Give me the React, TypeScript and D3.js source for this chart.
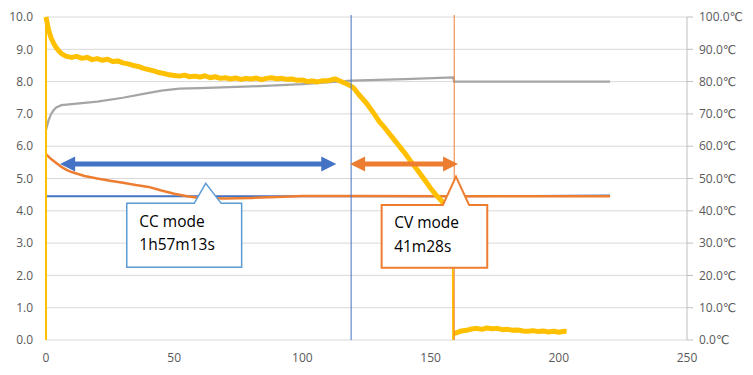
import * as d3 from "d3";

const W = 753;
const H = 375;
const marginLeft = 46;
const marginRight = 66;
const marginTop = 17;
const marginBottom = 35;

// x ticks (minutes) and axis ranges
const xTicks = [0, 50, 100, 150, 200, 250];
const leftTicks = [0, 1, 2, 3, 4, 5, 6, 7, 8, 9, 10];
const rightTicks = [0, 10, 20, 30, 40, 50, 60, 70, 80, 90, 100];

// yellow series (left axis), [minute, value]
const currentSeries: [number, number][] = [
  [0, 0], [0, 10], [0.5, 9.8], [1, 9.6], [2, 9.35], [3, 9.18], [4, 9.05], [5, 8.95],
  [6, 8.87], [7, 8.82], [8, 8.78], [10, 8.75], [12, 8.78], [14, 8.72], [16, 8.75],
  [18, 8.68], [20, 8.71], [22, 8.66], [24, 8.69], [26, 8.62], [28, 8.64], [30, 8.58],
  [32, 8.55], [34, 8.5], [36, 8.47], [38, 8.41], [40, 8.37], [42, 8.33], [44, 8.28],
  [46, 8.25], [48, 8.21], [50, 8.19], [52, 8.17], [54, 8.2], [56, 8.15], [58, 8.17],
  [60, 8.14], [62, 8.18], [64, 8.12], [66, 8.15], [68, 8.1], [70, 8.12], [72, 8.08],
  [74, 8.11], [76, 8.07], [78, 8.1], [80, 8.08], [82, 8.11], [84, 8.06], [86, 8.1],
  [88, 8.12], [90, 8.09], [92, 8.1], [94, 8.07], [96, 8.08], [98, 8.04], [100, 8.05],
  [102, 8.0], [104, 8.02], [106, 7.99], [108, 8.03], [110, 8.03], [112, 8.07],
  [113, 8.08], [114, 8.04], [116, 7.97], [118, 7.9], [119, 7.86], [120, 7.8],
  [122, 7.6], [125, 7.33], [128, 7.0], [130, 6.76], [132, 6.58], [135, 6.28],
  [138, 5.98], [140, 5.78], [142, 5.56], [145, 5.25], [148, 4.92], [150, 4.7],
  [152, 4.5], [155, 4.24], [158.6, 3.9], [158.8, 0], [159, 0.2], [160, 0.22],
  [162, 0.28], [164, 0.3], [166, 0.34], [168, 0.36], [170, 0.33], [172, 0.37],
  [174, 0.35], [176, 0.36], [178, 0.32], [180, 0.33], [182, 0.3], [184, 0.31],
  [186, 0.28], [188, 0.27], [190, 0.29], [192, 0.26], [194, 0.28], [196, 0.25],
  [198, 0.27], [200, 0.24], [202, 0.27], [203, 0.26],
];

// gray series (right axis, degC)
const tempSeries: [number, number][] = [
  [0, 65], [1, 68], [2, 70], [3, 71.2], [4, 72], [6, 72.7], [10, 73], [20, 73.8],
  [30, 75], [38, 76.2], [45, 77.2], [52, 77.8], [60, 78], [80, 78.5], [100, 79.2],
  [119, 80.3], [140, 80.8], [158.8, 81.3], [159.2, 80], [220, 80],
];

// orange series (left axis)
const voltSeries: [number, number][] = [
  [0, 5.75], [2, 5.6], [4, 5.48], [6, 5.36], [8, 5.27], [10, 5.2], [15, 5.08],
  [20, 5.0], [25, 4.93], [30, 4.87], [35, 4.8], [40, 4.74], [45, 4.63], [50, 4.53],
  [55, 4.45], [60, 4.4], [70, 4.38], [80, 4.4], [90, 4.43], [100, 4.46], [120, 4.46],
  [160, 4.45], [220, 4.45],
];

// blue series (left axis)
const blueSeries: [number, number][] = [
  [0, 4.45], [50, 4.45], [100, 4.45], [150, 4.45], [190, 4.46], [220, 4.47],
];

// mode boundaries (minutes)
const ccEnd = 119;
const cvEnd = 159.2;

// double arrows: [x0, x1, y] in data units
const arrows = [
  { from: 5.5, to: 113.2, y: 5.45, color: "#4472c4" },
  { from: 118.6, to: 160.7, y: 5.45, color: "#ed7d31" },
];

// callouts in data units
const callouts = [
  { lines: ["CC mode", "1h57m13s"], x0: 31.5, x1: 76.3, yTop: 4.23, yBot: 2.25, tipX: 62.3, tipY: 4.85, base0: 57.8, base1: 68.3, color: "#5b9bd5", width: 1.5 },
  { lines: ["CV mode", "41m28s"], x0: 130.9, x1: 172.1, yTop: 4.18, yBot: 2.24, tipX: 159.9, tipY: 5.06, base0: 154.8, base1: 165, color: "#ed7d31", width: 2 },
];

const font = "'Open Sans', 'DejaVu Sans', sans-serif";

export default function App() {
  const x = d3.scaleLinear().domain([0, 250]).range([marginLeft, W - marginRight]);
  const y = d3.scaleLinear().domain([0, 10]).range([H - marginBottom, marginTop]);
  const yR = d3.scaleLinear().domain([0, 100]).range([H - marginBottom, marginTop]);

  const lineL = d3.line<[number, number]>().x((d) => x(d[0])).y((d) => y(d[1]));
  const lineR = d3.line<[number, number]>().x((d) => x(d[0])).y((d) => yR(d[1]));
  // thick band for the noisy stretches of the yellow trace
  const noisy = d3
    .line<[number, number]>()
    .defined((d) => d[1] > 0)
    .x((d) => x(d[0]))
    .y((d) => y(d[1]));

  const bottom = H - marginBottom;
  const right = W - marginRight;

  return (
    <div style={{ position: "absolute", left: 0, top: 0 }}>
      <svg width={W} height={H} style={{ display: "block", background: "#fff" }}>
        {/* grid */}
        <g>
          {leftTicks.map((t) => (
            <line key={t} x1={marginLeft} x2={right} y1={y(t)} y2={y(t)} stroke="#d9d9d9" strokeWidth={1} />
          ))}
        </g>
        {/* right axis */}
        <line x1={right} x2={right} y1={marginTop} y2={bottom} stroke="#bfbfbf" />
        {rightTicks.map((t) => (
          <g key={t}>
            <line x1={right} x2={right + 6} y1={yR(t)} y2={yR(t)} stroke="#bfbfbf" />
            <text x={right + 12} y={yR(t)} dy="0.35em" fontSize={12} fill="#595959" fontFamily={font}>
              {t.toFixed(1)}℃
            </text>
          </g>
        ))}
        {/* left labels */}
        {leftTicks.map((t) => (
          <text key={t} x={33} y={y(t)} dy="0.35em" textAnchor="end" fontSize={12} fill="#595959" fontFamily={font}>
            {t.toFixed(1)}
          </text>
        ))}
        {/* x labels */}
        {xTicks.map((t) => (
          <text key={t} x={x(t)} y={bottom + 22} textAnchor="middle" fontSize={12} fill="#595959" fontFamily={font}>
            {t}
          </text>
        ))}

        {/* series */}
        <path d={lineL(blueSeries) ?? ""} fill="none" stroke="#4472c4" strokeWidth={2} />
        <path d={lineL(voltSeries) ?? ""} fill="none" stroke="#ed7d31" strokeWidth={2.5} />
        <path d={lineR(tempSeries) ?? ""} fill="none" stroke="#a5a5a5" strokeWidth={2.25} />
        <path d={lineL(currentSeries) ?? ""} fill="none" stroke="#ffc000" strokeWidth={2} />
        <path d={noisy(currentSeries) ?? ""} fill="none" stroke="#ffc000" strokeWidth={5} strokeLinejoin="round" />

        {/* mode boundaries */}
        <line x1={x(ccEnd)} x2={x(ccEnd)} y1={marginTop - 2} y2={bottom} stroke="#4472c4" strokeWidth={1} />
        <line x1={x(cvEnd)} x2={x(cvEnd)} y1={marginTop - 2} y2={bottom} stroke="#ed7d31" strokeWidth={1} />

        {/* arrows */}
        {arrows.map((a, i) => {
          const x0 = x(a.from);
          const x1 = x(a.to);
          const yy = y(a.y);
          const hl = 15;
          const hw = 7.5;
          return (
            <g key={i} fill={a.color}>
              <line x1={x0 + hl - 1} x2={x1 - hl + 1} y1={yy} y2={yy} stroke={a.color} strokeWidth={5} />
              <path d={`M${x0},${yy}L${x0 + hl},${yy - hw}L${x0 + hl},${yy + hw}Z`} />
              <path d={`M${x1},${yy}L${x1 - hl},${yy - hw}L${x1 - hl},${yy + hw}Z`} />
            </g>
          );
        })}

        {/* callouts */}
        {callouts.map((c, i) => {
          const l = x(c.x0);
          const r = x(c.x1);
          const t = y(c.yTop);
          const b = y(c.yBot);
          const d = `M${l},${t}L${x(c.base0)},${t}L${x(c.tipX)},${y(c.tipY)}L${x(c.base1)},${t}L${r},${t}L${r},${b}L${l},${b}Z`;
          return (
            <g key={i}>
              <path d={d} fill="#fff" stroke={c.color} strokeWidth={c.width} strokeLinejoin="miter" />
              {c.lines.map((s, j) => (
                <text key={j} x={l + 12.5} y={t + 23.5 + j * 23.5} fontSize={15.5} fill="#000" fontFamily={font}>
                  {s}
                </text>
              ))}
            </g>
          );
        })}
      </svg>
    </div>
  );
}
